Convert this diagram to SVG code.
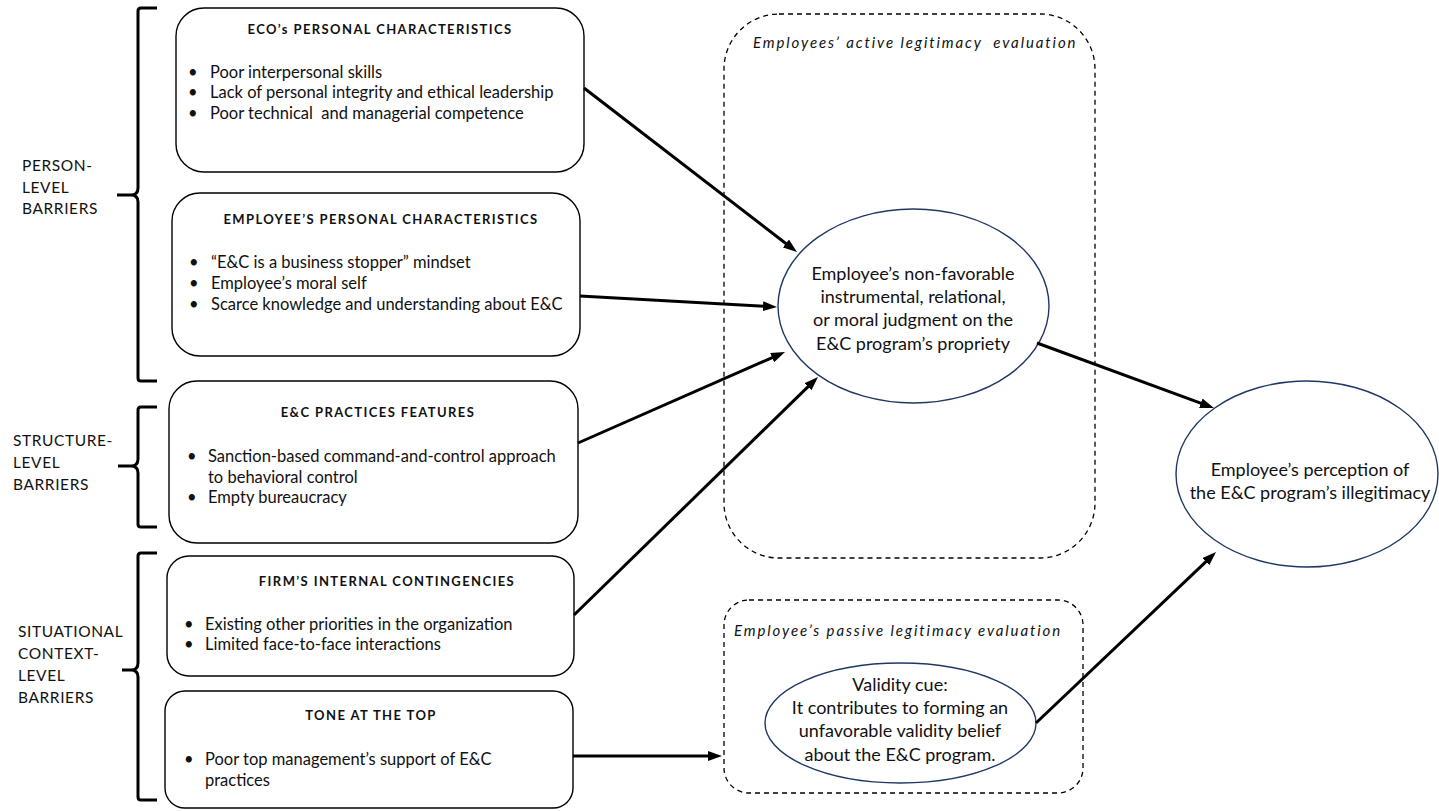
<svg xmlns="http://www.w3.org/2000/svg" width="1439" height="811" viewBox="0 0 1439 811">
<style>
.t{font-family:Lato,"Liberation Sans",sans-serif;font-size:16.5px;fill:#111}
.h{font-weight:bold;font-size:13px;letter-spacing:1.4px}
.lab{font-size:15.5px;letter-spacing:0.6px}
.it{font-style:italic;font-size:15px;letter-spacing:1.9px}
.el{font-size:18px}
.box{fill:#fff;stroke:#000;stroke-width:1.4}
.ell{fill:#fff;stroke:#1f3864;stroke-width:1.4}
.dash{fill:none;stroke:#000;stroke-width:1.3;stroke-dasharray:5 4}
.br{fill:none;stroke:#000;stroke-width:3}
.ar{fill:none;stroke:#000;stroke-width:3}
</style>
<defs>
<marker id="ah" markerUnits="userSpaceOnUse" markerWidth="14" markerHeight="10" refX="2" refY="5" orient="auto">
<path d="M0,0 L14,5 L0,10 z" fill="#000"/>
</marker>
</defs>
<rect width="1439" height="811" fill="#fff"/>

<g id="braces">
<path class="br" d="M157,8 L141,8 Q138,8 138,11 L138,188 Q138,195 131,195 L117,195 M131,195 Q138,195 138,202 L138,378 Q138,381 141,381 L157,381"/>
<path class="br" d="M157,407 L141,407 Q138,407 138,410 L138,459 Q138,466 131,466 L118,466 M131,466 Q138,466 138,473 L138,524 Q138,527 141,527 L157,527"/>
<path class="br" d="M157,553 L141,553 Q138,553 138,556 L138,663 Q138,670 131,670 L122,670 M131,670 Q138,670 138,677 L138,797 Q138,800 141,800 L157,800"/>
</g>

<g id="labels">
<text class="t lab" x="22" y="171">PERSON-</text>
<text class="t lab" x="22" y="193">LEVEL</text>
<text class="t lab" x="22" y="214">BARRIERS</text>
<text class="t lab" x="13" y="446">STRUCTURE-</text>
<text class="t lab" x="13" y="468">LEVEL</text>
<text class="t lab" x="13" y="490">BARRIERS</text>
<text class="t lab" x="18" y="637">SITUATIONAL</text>
<text class="t lab" x="18" y="659">CONTEXT-</text>
<text class="t lab" x="18" y="681">LEVEL</text>
<text class="t lab" x="18" y="703">BARRIERS</text>
</g>

<g id="eco">
<rect class="box" x="176" y="8" width="408" height="164" rx="28"/>
<text class="t h" x="380" y="34" text-anchor="middle">ECO’s PERSONAL CHARACTERISTICS</text>
<text class="t" x="188" y="78">•</text><text class="t" x="210" y="78">Poor interpersonal skills</text>
<text class="t" x="188" y="98">•</text><text class="t" x="210" y="98">Lack of personal integrity and ethical leadership</text>
<text class="t" x="188" y="119">•</text><text class="t" x="210" y="119" xml:space="preserve">Poor technical  and managerial competence</text>
</g>

<g id="employee">
<rect class="box" x="172" y="193" width="408" height="163" rx="28"/>
<text class="t h" x="381" y="224" text-anchor="middle">EMPLOYEE’S PERSONAL CHARACTERISTICS</text>
<text class="t" x="189" y="268">•</text><text class="t" x="211" y="268">“E&amp;C is a business stopper” mindset</text>
<text class="t" x="189" y="289">•</text><text class="t" x="211" y="289">Employee’s moral self</text>
<text class="t" x="189" y="310">•</text><text class="t" x="211" y="310">Scarce knowledge and understanding about E&amp;C</text>
</g>

<g id="practices">
<rect class="box" x="169" y="381" width="409" height="162" rx="28"/>
<text class="t h" x="378" y="417" text-anchor="middle">E&amp;C PRACTICES FEATURES</text>
<text class="t" x="187" y="462">•</text><text class="t" x="208" y="462">Sanction-based command-and-control approach</text>
<text class="t" x="208" y="483">to behavioral control</text>
<text class="t" x="187" y="503">•</text><text class="t" x="208" y="503">Empty bureaucracy</text>
</g>

<g id="firm">
<rect class="box" x="167" y="556" width="407" height="120" rx="22"/>
<text class="t h" x="387" y="586" text-anchor="middle">FIRM’S INTERNAL CONTINGENCIES</text>
<text class="t" x="184" y="630">•</text><text class="t" x="205" y="630">Existing other priorities in the organization</text>
<text class="t" x="184" y="650">•</text><text class="t" x="205" y="650">Limited face-to-face interactions</text>
</g>

<g id="tone">
<rect class="box" x="165" y="691" width="408" height="117" rx="20"/>
<text class="t h" x="371" y="720" text-anchor="middle">TONE AT THE TOP</text>
<text class="t" x="184" y="765">•</text><text class="t" x="205" y="765">Poor top management’s support of E&amp;C</text>
<text class="t" x="205" y="786">practices</text>
</g>

<g id="active">
<rect class="dash" x="724" y="14" width="371" height="544" rx="55"/>
<text class="t it" x="753" y="48" xml:space="preserve">Employees’ active legitimacy  evaluation</text>
</g>

<g id="passive">
<rect class="dash" x="724" y="600" width="359" height="193" rx="25"/>
<text class="t it" x="734" y="636">Employee’s passive legitimacy evaluation</text>
</g>

<g id="judgment">
<ellipse class="ell" cx="913.5" cy="306" rx="135.5" ry="97"/>
<text class="t el" x="913" y="280" text-anchor="middle">Employee’s non-favorable</text>
<text class="t el" x="913" y="303" text-anchor="middle">instrumental, relational,</text>
<text class="t el" x="913" y="326" text-anchor="middle">or moral judgment on the</text>
<text class="t el" x="913" y="350" text-anchor="middle">E&amp;C program’s propriety</text>
</g>

<g id="validity">
<ellipse class="ell" cx="900.5" cy="723" rx="135.5" ry="60"/>
<text class="t el" x="900" y="691" text-anchor="middle">Validity cue:</text>
<text class="t el" x="900" y="714" text-anchor="middle">It contributes to forming an</text>
<text class="t el" x="900" y="737" text-anchor="middle">unfavorable validity belief</text>
<text class="t el" x="900" y="761" text-anchor="middle">about the E&amp;C program.</text>
</g>

<g id="illegitimacy">
<ellipse class="ell" cx="1307" cy="474" rx="131" ry="93"/>
<text class="t el" x="1310" y="476" text-anchor="middle">Employee’s perception of</text>
<text class="t el" x="1310" y="499" text-anchor="middle">the E&amp;C program’s illegitimacy</text>
</g>

<g id="connectors">
<line class="ar" x1="584" y1="88" x2="787.5" y2="244.7" marker-end="url(#ah)"/>
<line class="ar" x1="580" y1="296" x2="765" y2="306.3" marker-end="url(#ah)"/>
<line class="ar" x1="578" y1="443" x2="774" y2="356.8" marker-end="url(#ah)"/>
<line class="ar" x1="574" y1="615" x2="809.4" y2="385.4" marker-end="url(#ah)"/>
<line class="ar" x1="1037" y1="343" x2="1202.7" y2="403.9" marker-end="url(#ah)"/>
<line class="ar" x1="573" y1="756" x2="710" y2="756" marker-end="url(#ah)"/>
<line class="ar" x1="1036" y1="723" x2="1207.3" y2="560.3" marker-end="url(#ah)"/>
</g>
</svg>
